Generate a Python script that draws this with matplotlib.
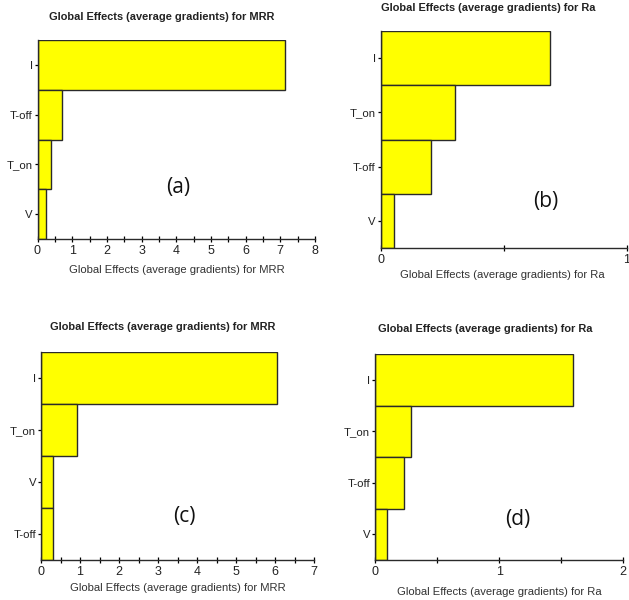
import matplotlib
matplotlib.use("Agg")
import matplotlib.pyplot as plt
from matplotlib.ticker import MultipleLocator

# ---- data ------------------------------------------------------------------
cats_a = ["I", "T-off", "T_on", "V"]
vals_a = [7.14, 0.70, 0.38, 0.235]

cats_b = ["I", "T_on", "T-off", "V"]
vals_b = [0.688, 0.303, 0.204, 0.053]

cats_c = ["I", "T_on", "V", "T-off"]
vals_c = [6.05, 0.93, 0.315, 0.31]

cats_d = ["I", "T_on", "T-off", "V"]
vals_d = [1.597, 0.29, 0.235, 0.10]

TITLE_MRR = "Global Effects (average gradients) for MRR"
TITLE_RA = "Global Effects (average gradients) for Ra"

NARROW = ["Liberation Sans Narrow", "Liberation Sans", "DejaVu Sans"]
W, H = 629, 600


def px_axes(fig, x0, y0, x1, y1):
    # pixel box (top-left origin) -> figure fraction
    return fig.add_axes([x0 / W, 1 - y1 / H, (x1 - x0) / W, (y1 - y0) / H])


def panel(fig, box, cats, vals, xmax, title, label,
          title_xy, xlabel_xy, label_xy):
    ax = px_axes(fig, *box)
    y = list(range(len(cats)))[::-1]
    ax.barh(y, vals, height=1.0, color="#ffff00", edgecolor="#2a2a2a",
            linewidth=1.0, zorder=2)
    ax.set_ylim(-0.5, len(cats) - 0.5)
    ax.set_xlim(0, xmax)
    ax.set_yticks(y)
    ax.set_yticklabels(cats, family=NARROW, fontsize=8.2, color="#222222")
    ax.xaxis.set_major_locator(MultipleLocator(1))
    ax.xaxis.set_minor_locator(MultipleLocator(0.5))
    for lab in ax.get_xticklabels():
        lab.set_family(NARROW)
    ax.tick_params(axis="x", which="both", direction="inout", length=5,
                   width=0.9, labelsize=9, labelcolor="#222222", pad=2)
    ax.tick_params(axis="y", direction="inout", length=5, width=0.9, pad=1)
    for s in ("top", "right"):
        ax.spines[s].set_visible(False)
    for s in ("left", "bottom"):
        ax.spines[s].set_linewidth(1.0)
        ax.spines[s].set_color("#2a2a2a")
    fig.text(title_xy[0] / W, 1 - title_xy[1] / H, title, ha="center",
             va="center", fontsize=7.9, fontweight="bold", family=NARROW,
             color="#222222")
    fig.text(xlabel_xy[0] / W, 1 - xlabel_xy[1] / H, title, ha="center",
             va="center", fontsize=8.1, family=NARROW, color="#333333")
    fig.text(label_xy[0] / W, 1 - label_xy[1] / H, label, ha="center",
             va="center", fontsize=15, family=["Open Sans", "DejaVu Sans"],
             color="#111111")
    return ax


fig = plt.figure(figsize=(W / 100, H / 100), dpi=100)
fig.patch.set_facecolor("white")

panel(fig, (37.5, 40, 315, 239), cats_a, vals_a, 8, TITLE_MRR, "(a)",
      (161.7, 16.7), (176.7, 270), (178, 187.7))
panel(fig, (380.7, 31, 626.7, 248), cats_b, vals_b, 1, TITLE_RA, "(b)",
      (488, 8), (502.7, 275), (546, 201.7))
panel(fig, (41, 351.7, 314.3, 560), cats_c, vals_c, 7, TITLE_MRR, "(c)",
      (162.7, 326.7), (178, 588.3), (184.3, 516.7))
panel(fig, (375, 354.3, 623.3, 560), cats_d, vals_d, 2, TITLE_RA, "(d)",
      (485, 329), (499, 591.7), (518, 520))

fig.savefig("out.png", dpi=100, facecolor="white")
